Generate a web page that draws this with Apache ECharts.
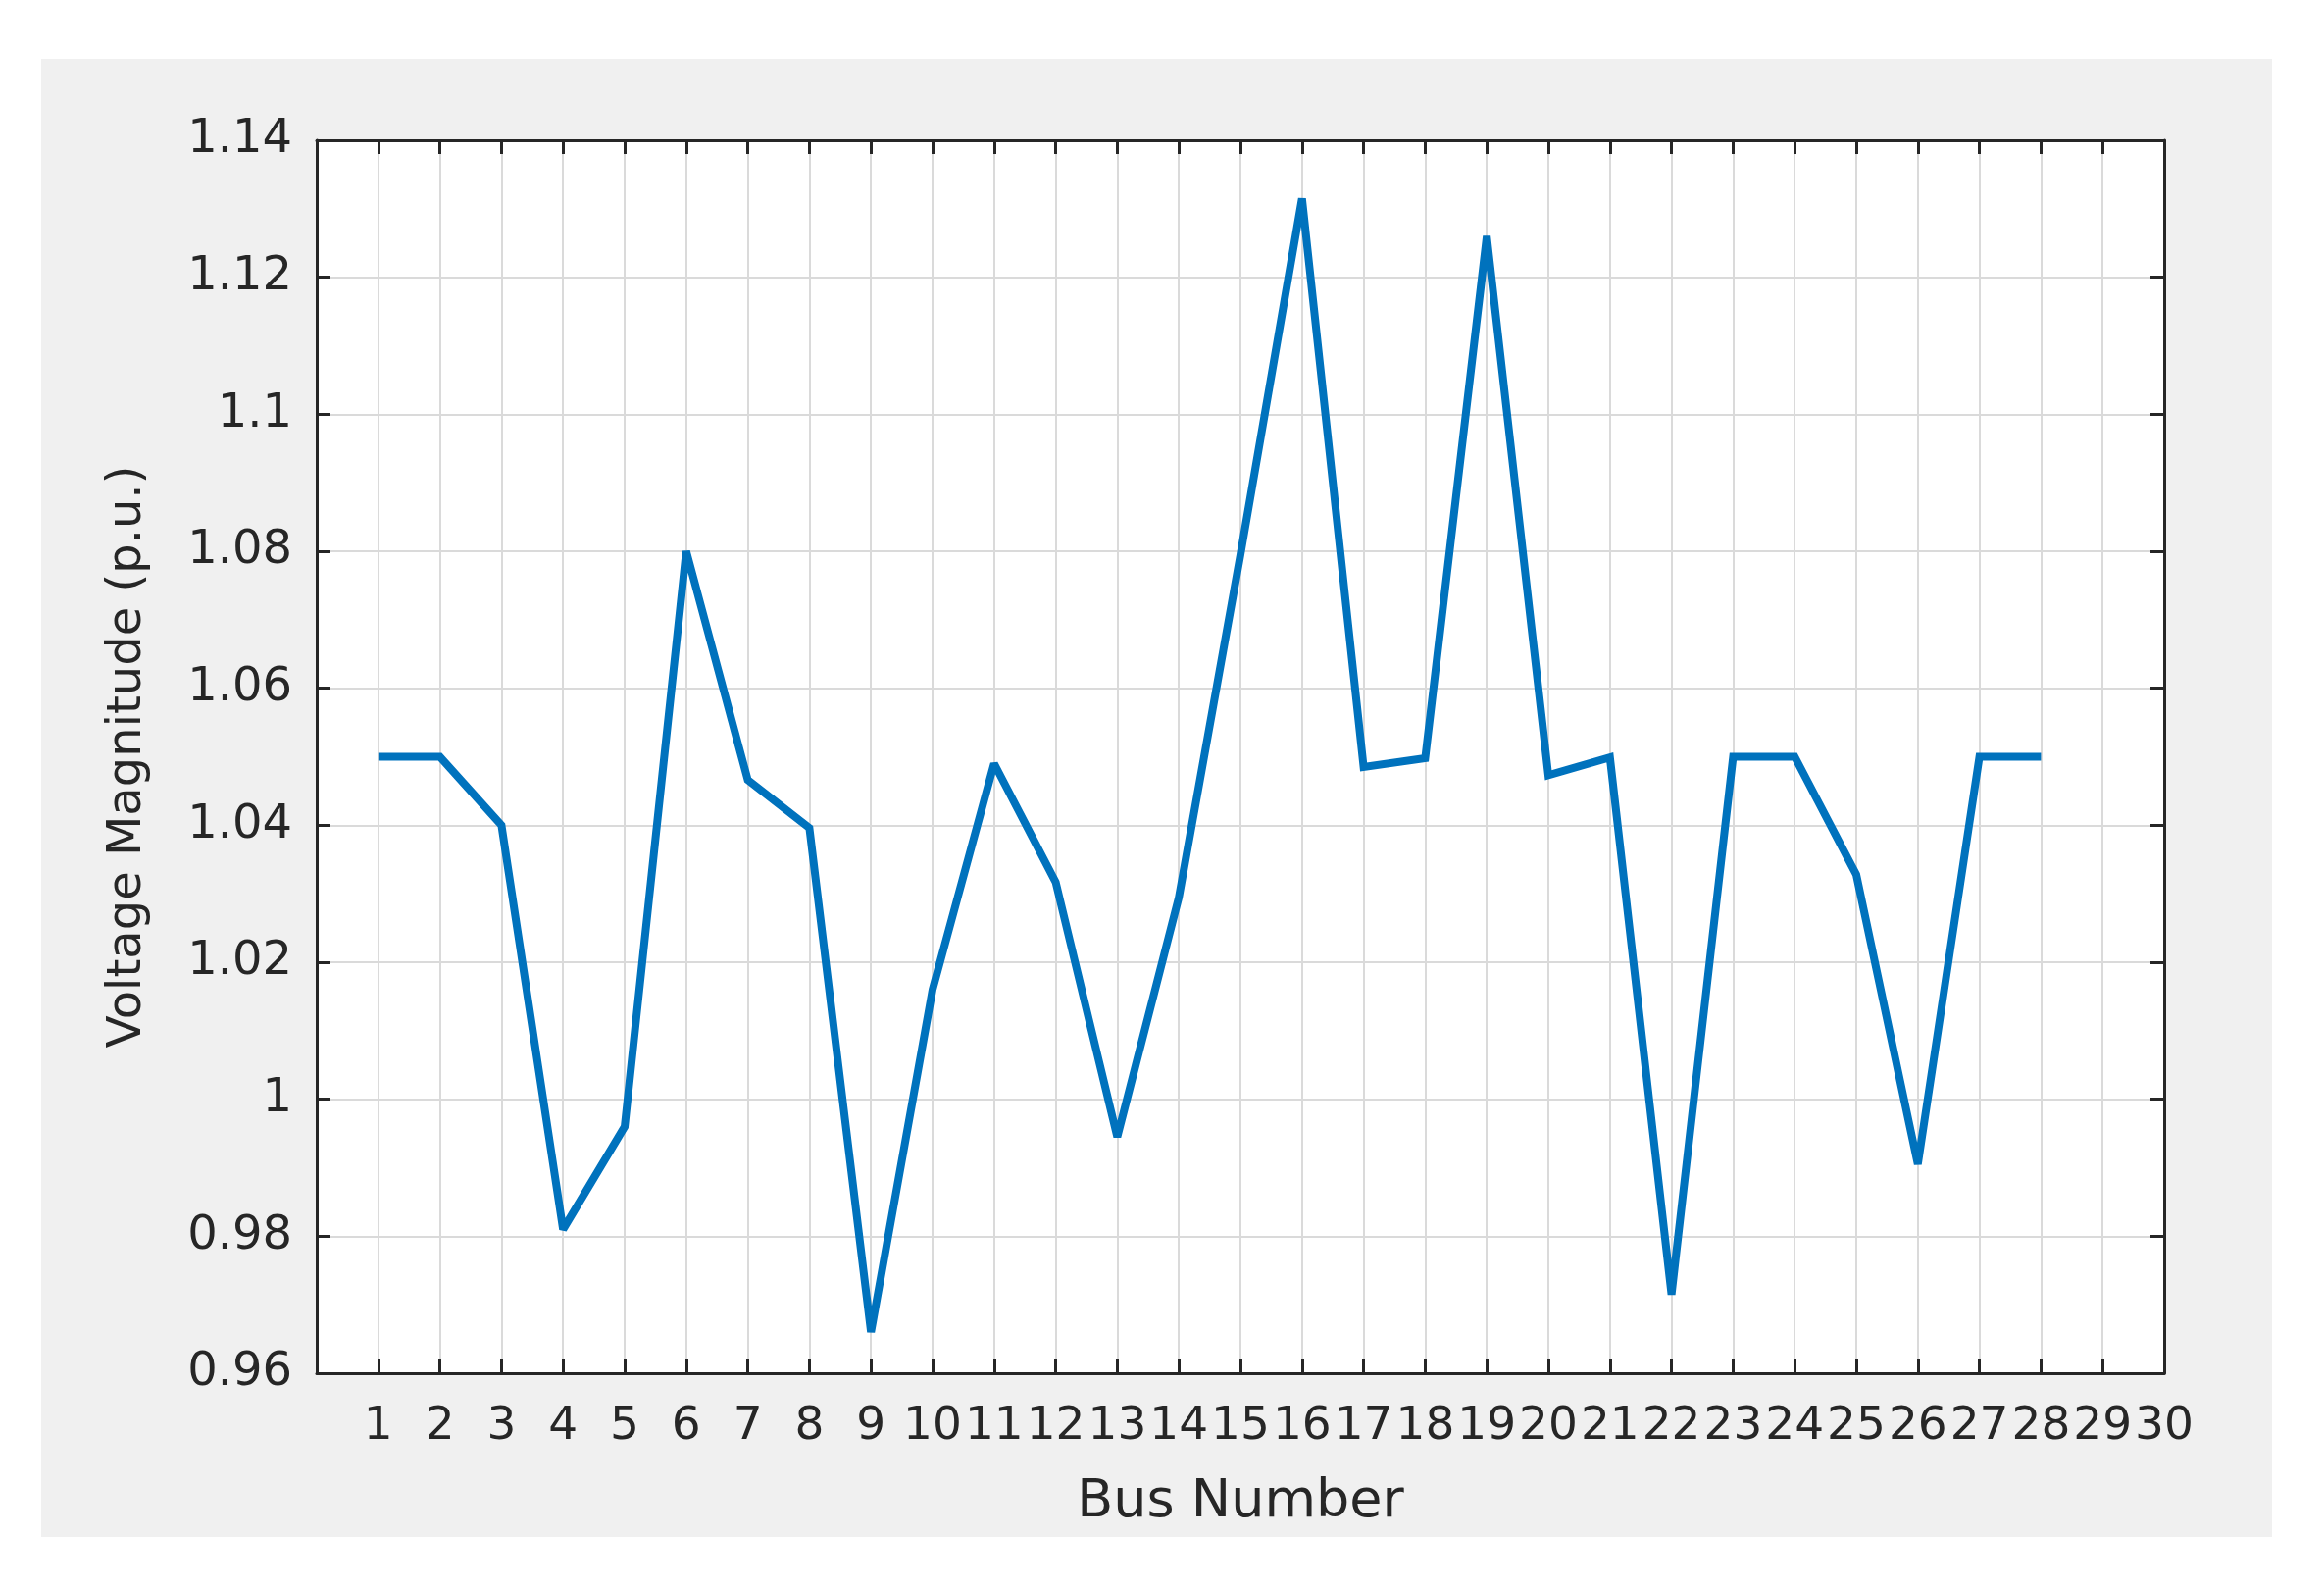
<!DOCTYPE html>
<html>
<head>
<meta charset="utf-8">
<script src="https://cdn.jsdelivr.net/npm/echarts@6/dist/echarts.min.js"></script>
<style>
  html, body { margin: 0; padding: 0; background: #ffffff; }
  #wrap { position: relative; width: 2370px; height: 1621px; background: #ffffff; }
  #panel { position: absolute; left: 42px; top: 60px; width: 2275px; height: 1507px; background: #f0f0f0; }
  #chart { position: absolute; left: 0; top: 0; width: 2370px; height: 1621px; }
</style>
</head>
<body>
<div id="wrap">
  <div id="panel"></div>
  <div id="chart"></div>
</div>
<script>
// ---- data ----
const busNumbers = [1,2,3,4,5,6,7,8,9,10,11,12,13,14,15,16,17,18,19,20,21,22,23,24,25,26,27,28];
const voltageMagnitude = [1.050,1.050,1.040,0.981,0.996,1.080,1.0466,1.0396,0.966,1.016,
                          1.049,1.0317,0.9945,1.0295,1.0795,1.1315,1.0485,1.0498,1.126,1.0473,
                          1.0499,0.9715,1.050,1.050,1.0328,0.9905,1.050,1.050];
const xTickRange = [0, 30];
const yTickRange = [0.96, 1.14];
const yTickStep = 0.02;
const xLabel = 'Bus Number';
const yLabel = 'Voltage Magnitude (p.u.)';

const seriesData = busNumbers.map((b, i) => [b, voltageMagnitude[i]]);

const axisColor = '#262626';
const font = 'DejaVu Sans';
const chart = echarts.init(document.getElementById('chart'), null, { renderer: 'canvas' });

const boxAxisCommon = {
  axisLine: { show: true, onZero: false, lineStyle: { color: axisColor, width: 3 } },
  axisTick: { show: true, inside: true, length: 14, lineStyle: { color: axisColor, width: 3 } },
  axisLabel: { show: false },
  splitLine: { show: false }
};

chart.setOption({
  animation: false,
  backgroundColor: 'transparent',
  grid: {
    left: 323, right: 163, top: 143, bottom: 221,
    show: true, backgroundColor: '#ffffff', borderWidth: 0
  },
  xAxis: [
    {
      type: 'value', min: xTickRange[0], max: xTickRange[1], interval: 1,
      position: 'bottom',
      name: xLabel, nameLocation: 'middle', nameGap: 105,
      nameTextStyle: { fontFamily: font, fontSize: 54, color: axisColor },
      axisLine: { show: true, onZero: false, lineStyle: { color: axisColor, width: 3 } },
      axisTick: { show: true, inside: true, length: 14, lineStyle: { color: axisColor, width: 3 } },
      axisLabel: {
        show: true, margin: 31, fontFamily: font, fontSize: 47, color: axisColor,
        showMinLabel: false, showMaxLabel: true,
        formatter: v => (v === 0 ? '' : String(v))
      },
      splitLine: { show: true, lineStyle: { color: '#dadada', width: 2 } }
    },
    Object.assign({ type: 'value', min: xTickRange[0], max: xTickRange[1], interval: 1, position: 'top' }, boxAxisCommon)
  ],
  yAxis: [
    {
      type: 'value', min: yTickRange[0], max: yTickRange[1], interval: yTickStep,
      position: 'left',
      name: yLabel, nameLocation: 'middle', nameGap: 168, nameRotate: 90,
      nameTextStyle: { fontFamily: font, fontSize: 48, color: axisColor },
      axisLine: { show: true, onZero: false, lineStyle: { color: axisColor, width: 3 } },
      axisTick: { show: true, inside: true, length: 14, lineStyle: { color: axisColor, width: 3 } },
      axisLabel: {
        show: true, margin: 25, fontFamily: font, fontSize: 48, color: axisColor,
        formatter: v => String(+v.toFixed(2))
      },
      splitLine: { show: true, lineStyle: { color: '#dadada', width: 2 } }
    },
    Object.assign({ type: 'value', min: yTickRange[0], max: yTickRange[1], interval: yTickStep, position: 'right' }, boxAxisCommon)
  ],
  series: [{
    type: 'line',
    xAxisIndex: 0, yAxisIndex: 0,
    data: seriesData,
    showSymbol: false,
    symbol: 'none',
    lineStyle: { color: '#0072BD', width: 8, join: 'miter', miterLimit: 2.5 },
    z: 5
  }]
});
</script>
</body>
</html>
